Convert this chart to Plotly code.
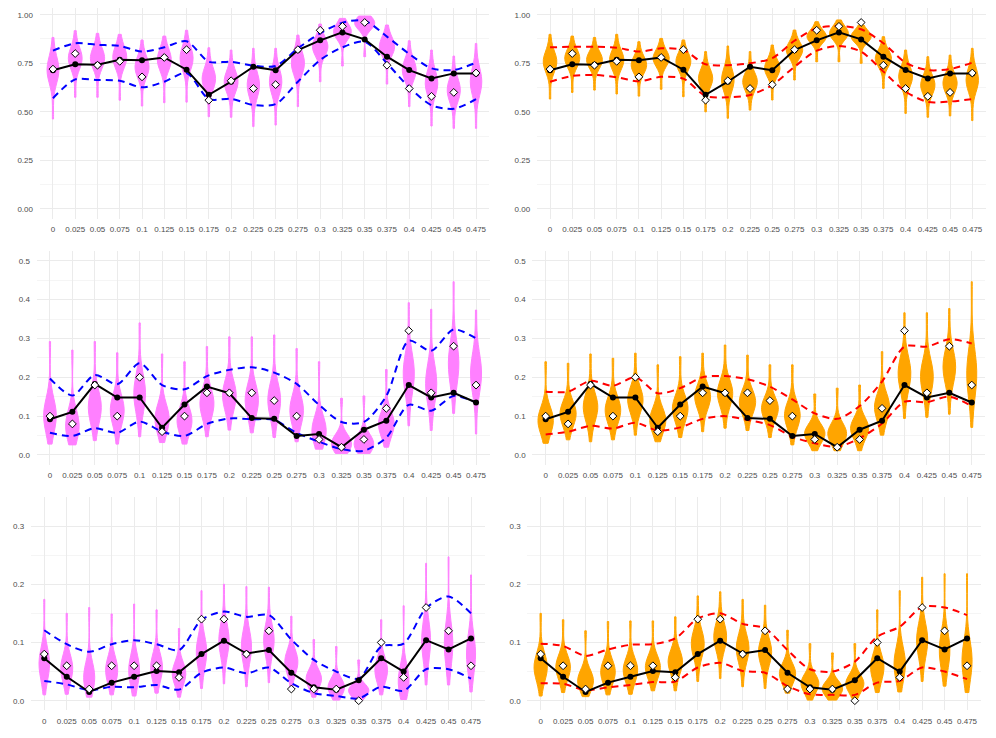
import plotly.graph_objects as go

CATS = ["0", "0.025", "0.05", "0.075", "0.1", "0.125", "0.15", "0.175", "0.2", "0.225",
        "0.25", "0.275", "0.3", "0.325", "0.35", "0.375", "0.4", "0.425", "0.45", "0.475"]

# ---- row 1 -------------------------------------------------------------
obs_1 = [0.72, 0.80, 0.74, 0.76, 0.68, 0.78, 0.82, 0.56, 0.66, 0.62,
         0.64, 0.82, 0.92, 0.94, 0.96, 0.74, 0.62, 0.58, 0.60, 0.70]
mean_1 = [0.714, 0.745, 0.743, 0.768, 0.765, 0.780, 0.717, 0.588, 0.655, 0.732,
          0.714, 0.818, 0.868, 0.909, 0.873, 0.784, 0.715, 0.672, 0.698, 0.698]
blue_hi_1 = [0.815, 0.853, 0.845, 0.839, 0.810, 0.832, 0.863, 0.758, 0.758, 0.738,
             0.736, 0.827, 0.904, 0.959, 0.969, 0.887, 0.798, 0.724, 0.715, 0.753]
blue_lo_1 = [0.570, 0.667, 0.664, 0.660, 0.626, 0.655, 0.700, 0.566, 0.567, 0.535,
             0.540, 0.655, 0.767, 0.832, 0.861, 0.750, 0.626, 0.534, 0.516, 0.565]
red_hi_1 = [0.832, 0.835, 0.835, 0.830, 0.810, 0.827, 0.818, 0.745, 0.740, 0.750,
            0.776, 0.866, 0.930, 0.942, 0.925, 0.853, 0.753, 0.715, 0.720, 0.753]
red_lo_1 = [0.655, 0.685, 0.690, 0.678, 0.657, 0.680, 0.671, 0.582, 0.575, 0.587,
            0.638, 0.732, 0.815, 0.839, 0.810, 0.707, 0.604, 0.551, 0.553, 0.566]
vl_min_1 = [0.463, 0.575, 0.575, 0.560, 0.530, 0.547, 0.550, 0.475, 0.472, 0.424,
            0.432, 0.527, 0.655, 0.736, 0.784, 0.643, 0.527, 0.427, 0.415, 0.415]
vl_mode_1 = [0.715, 0.775, 0.775, 0.780, 0.730, 0.767, 0.775, 0.670, 0.655, 0.638,
             0.655, 0.750, 0.835, 0.912, 0.955, 0.835, 0.715, 0.647, 0.612, 0.655]
vl_max_1 = [0.883, 0.918, 0.904, 0.899, 0.870, 0.890, 0.920, 0.830, 0.818, 0.827,
            0.827, 0.895, 0.952, 0.981, 0.993, 0.947, 0.866, 0.818, 0.787, 0.852]
vr_min_1 = [0.566, 0.600, 0.612, 0.592, 0.581, 0.616, 0.578, 0.500, 0.467, 0.509,
            0.561, 0.664, 0.758, 0.758, 0.750, 0.621, 0.492, 0.472, 0.479, 0.455]
vr_mode_1 = [0.758, 0.775, 0.767, 0.767, 0.741, 0.775, 0.758, 0.672, 0.664, 0.655,
             0.724, 0.818, 0.887, 0.904, 0.887, 0.775, 0.681, 0.638, 0.647, 0.664]
vr_max_1 = [0.899, 0.890, 0.883, 0.899, 0.861, 0.878, 0.870, 0.810, 0.839, 0.810,
            0.844, 0.921, 0.964, 0.973, 0.947, 0.887, 0.818, 0.784, 0.792, 0.827]

# ---- row 2 -------------------------------------------------------------
obs_2 = [0.10, 0.08, 0.18, 0.10, 0.20, 0.06, 0.10, 0.16, 0.16, 0.16,
         0.14, 0.10, 0.04, 0.02, 0.04, 0.12, 0.32, 0.16, 0.28, 0.18]
mean_2 = [0.092, 0.111, 0.183, 0.148, 0.148, 0.070, 0.130, 0.176, 0.159, 0.095,
          0.093, 0.049, 0.054, 0.020, 0.065, 0.088, 0.180, 0.148, 0.160, 0.135]
blue_hi_2 = [0.197, 0.153, 0.206, 0.182, 0.236, 0.180, 0.169, 0.203, 0.219, 0.226,
             0.212, 0.183, 0.129, 0.085, 0.085, 0.152, 0.294, 0.268, 0.323, 0.300]
blue_lo_2 = [0.057, 0.049, 0.069, 0.057, 0.086, 0.060, 0.049, 0.080, 0.094, 0.092,
             0.090, 0.057, 0.034, 0.015, 0.011, 0.045, 0.129, 0.114, 0.152, 0.135]
red_hi_2 = [0.163, 0.163, 0.191, 0.178, 0.200, 0.159, 0.172, 0.200, 0.203, 0.195,
            0.176, 0.143, 0.107, 0.093, 0.126, 0.189, 0.279, 0.279, 0.298, 0.287]
red_lo_2 = [0.053, 0.060, 0.075, 0.068, 0.083, 0.063, 0.071, 0.093, 0.100, 0.090,
            0.077, 0.047, 0.030, 0.021, 0.043, 0.081, 0.137, 0.136, 0.150, 0.126]
vl_min_2 = [0.028, 0.026, 0.037, 0.028, 0.047, 0.032, 0.028, 0.047, 0.064, 0.057,
            0.045, 0.034, 0.015, 0.004, 0.004, 0.020, 0.075, 0.063, 0.107, 0.054]
vl_mode_2 = [0.103, 0.077, 0.124, 0.116, 0.159, 0.094, 0.090, 0.133, 0.154, 0.142,
             0.142, 0.116, 0.064, 0.030, 0.030, 0.081, 0.210, 0.184, 0.236, 0.210]
vl_max_2 = [0.292, 0.270, 0.292, 0.263, 0.340, 0.260, 0.240, 0.279, 0.304, 0.304,
            0.309, 0.274, 0.240, 0.146, 0.152, 0.220, 0.392, 0.375, 0.446, 0.373]
vr_min_2 = [0.030, 0.039, 0.034, 0.039, 0.051, 0.034, 0.045, 0.060, 0.069, 0.063,
            0.045, 0.026, 0.011, 0.011, 0.011, 0.051, 0.094, 0.097, 0.105, 0.071]
vr_mode_2 = [0.090, 0.107, 0.124, 0.116, 0.142, 0.090, 0.120, 0.150, 0.159, 0.137,
             0.120, 0.103, 0.056, 0.056, 0.069, 0.124, 0.210, 0.202, 0.227, 0.210]
vr_max_2 = [0.240, 0.236, 0.260, 0.249, 0.262, 0.232, 0.253, 0.262, 0.283, 0.257,
            0.232, 0.232, 0.157, 0.172, 0.180, 0.266, 0.366, 0.366, 0.377, 0.446]

# ---- row 3 -------------------------------------------------------------
obs_3 = [0.08, 0.06, 0.02, 0.06, 0.06, 0.06, 0.04, 0.14, 0.14, 0.08,
         0.12, 0.02, 0.02, 0.02, 0.00, 0.10, 0.04, 0.16, 0.12, 0.06]
mean_3 = [0.073, 0.041, 0.015, 0.031, 0.041, 0.051, 0.049, 0.080, 0.103, 0.081,
          0.087, 0.048, 0.023, 0.019, 0.035, 0.073, 0.050, 0.104, 0.088, 0.107]
blue_hi_3 = [0.121, 0.097, 0.084, 0.097, 0.104, 0.097, 0.087, 0.139, 0.153, 0.144,
             0.147, 0.105, 0.070, 0.050, 0.038, 0.093, 0.098, 0.159, 0.179, 0.150]
blue_lo_3 = [0.034, 0.028, 0.018, 0.024, 0.023, 0.027, 0.019, 0.048, 0.057, 0.047,
             0.057, 0.030, 0.013, 0.008, 0.004, 0.024, 0.017, 0.054, 0.054, 0.038]
red_hi_3 = [0.098, 0.094, 0.077, 0.088, 0.096, 0.097, 0.107, 0.141, 0.150, 0.132,
            0.124, 0.087, 0.054, 0.050, 0.067, 0.110, 0.127, 0.161, 0.160, 0.147]
red_lo_3 = [0.030, 0.029, 0.018, 0.023, 0.027, 0.032, 0.033, 0.057, 0.065, 0.051,
            0.048, 0.025, 0.011, 0.010, 0.010, 0.031, 0.034, 0.057, 0.050, 0.037]
vl_min_3 = [0.010, 0.011, 0.006, 0.010, 0.008, 0.013, 0.006, 0.021, 0.029, 0.024,
            0.031, 0.021, 0.006, 0.001, 0.001, 0.010, 0.002, 0.027, 0.027, 0.015]
vl_mode_3 = [0.064, 0.056, 0.041, 0.053, 0.053, 0.058, 0.047, 0.084, 0.104, 0.093,
             0.104, 0.067, 0.038, 0.024, 0.018, 0.053, 0.035, 0.104, 0.098, 0.081]
vl_max_3 = [0.174, 0.150, 0.160, 0.149, 0.166, 0.156, 0.124, 0.189, 0.200, 0.196,
            0.195, 0.145, 0.105, 0.093, 0.070, 0.139, 0.163, 0.236, 0.247, 0.216]
vr_min_3 = [0.008, 0.014, 0.007, 0.010, 0.011, 0.017, 0.017, 0.033, 0.038, 0.024,
            0.021, 0.013, 0.001, 0.001, 0.004, 0.014, 0.015, 0.033, 0.025, 0.014]
vr_mode_3 = [0.058, 0.058, 0.035, 0.050, 0.053, 0.058, 0.067, 0.098, 0.110, 0.090,
             0.084, 0.047, 0.030, 0.021, 0.030, 0.058, 0.064, 0.104, 0.087, 0.070]
vr_max_3 = [0.150, 0.139, 0.120, 0.136, 0.137, 0.137, 0.144, 0.180, 0.187, 0.174,
            0.164, 0.121, 0.098, 0.082, 0.098, 0.156, 0.189, 0.212, 0.218, 0.218]

_PINK = "#FF80FF"
_ORANGE = "#FFA500"
_BLUE = "#0000FF"
_RED = "#FF0000"
_GRID = "#EBEBEB"
_MINOR = "#F5F5F5"
_TICK = "#4D4D4D"
_FONT = "Liberation Sans, Arial, sans-serif"

# the page body has an 8px margin, so the figure is offset by it
OFF = 8
W, H = 996 - OFF, 738 - OFF

# pixel boxes of each panel in window coords (left, right, top, bottom)
PANELS = {
    1: (39.6, 489.4, 8.0, 218.7),
    2: (536.7, 985.6, 8.0, 218.7),
    3: (36.5, 489.5, 251.0, 464.7),
    4: (532.2, 985.2, 251.0, 464.7),
    5: (30.8, 484.5, 496.9, 710.4),
    6: (527.2, 980.5, 496.9, 710.4),
}
YAX = {
    1: dict(range=[-0.05, 1.0345], dtick=0.25, tickformat=".2f"),
    2: dict(range=[-0.025, 0.525], dtick=0.1, tickformat=".1f"),
    3: dict(range=[-1 / 60, 0.35], dtick=0.1, tickformat=".1f"),
}

fig = go.Figure()


def add_panel(k, obs, mean, hi, lo, vmin, vmode, vmax, fill, dash_color):
    xa, ya = f"x{k}", f"y{k}"
    # area-like scaling: tighter violins are drawn wider
    spreads = [b - a for a, b in zip(vmin, vmax)]
    tightest = min(spreads)
    for c, a, m, b in zip(CATS, vmin, vmode, vmax):
        samples = [a] + [m] * 10 + [b]
        w = max(0.35, 0.9 * (tightest / (b - a)) ** 0.75)
        fig.add_trace(go.Violin(
            x=[c] * len(samples), y=samples, xaxis=xa, yaxis=ya,
            fillcolor=fill, line=dict(color=fill, width=1),
            spanmode="hard", bandwidth=(b - a) / 6, width=w,
            scalemode="width", points=False, opacity=1,
            showlegend=False, hoverinfo="skip",
        ))
    for band in (hi, lo):
        fig.add_trace(go.Scatter(
            x=CATS, y=band, xaxis=xa, yaxis=ya, mode="lines",
            line=dict(color=dash_color, width=2, dash="7px,5px",
                      shape="spline", smoothing=0.8),
            showlegend=False, hoverinfo="skip",
        ))
    fig.add_trace(go.Scatter(
        x=CATS, y=mean, xaxis=xa, yaxis=ya, mode="lines+markers",
        line=dict(color="black", width=2),
        marker=dict(color="black", size=6),
        showlegend=False,
    ))
    fig.add_trace(go.Scatter(
        x=CATS, y=obs, xaxis=xa, yaxis=ya, mode="markers",
        marker=dict(symbol="diamond", size=6, color="white",
                    line=dict(color="black", width=1)),
        showlegend=False,
    ))


add_panel(1, obs_1, mean_1, blue_hi_1, blue_lo_1, vl_min_1, vl_mode_1, vl_max_1, _PINK, _BLUE)
add_panel(2, obs_1, mean_1, red_hi_1, red_lo_1, vr_min_1, vr_mode_1, vr_max_1, _ORANGE, _RED)
add_panel(3, obs_2, mean_2, blue_hi_2, blue_lo_2, vl_min_2, vl_mode_2, vl_max_2, _PINK, _BLUE)
add_panel(4, obs_2, mean_2, red_hi_2, red_lo_2, vr_min_2, vr_mode_2, vr_max_2, _ORANGE, _RED)
add_panel(5, obs_3, mean_3, blue_hi_3, blue_lo_3, vl_min_3, vl_mode_3, vl_max_3, _PINK, _BLUE)
add_panel(6, obs_3, mean_3, red_hi_3, red_lo_3, vr_min_3, vr_mode_3, vr_max_3, _ORANGE, _RED)

layout = dict(
    width=W, height=H,
    paper_bgcolor="white", plot_bgcolor="white",
    margin=dict(l=0, r=0, t=0, b=0),
    violinmode="overlay",
    font=dict(family=_FONT, color=_TICK, size=8),
    showlegend=False,
)
for k, (x0, x1, y0, y1) in PANELS.items():
    row = (k + 1) // 2
    sfx = "" if k == 1 else str(k)
    layout["xaxis" + sfx] = dict(
        domain=[(x0 - OFF) / W, min(1, (x1 - OFF) / W)], anchor=f"y{k}",
        type="category", categoryorder="array", categoryarray=CATS,
        range=[-0.6, 19.6], showgrid=True, gridcolor=_GRID, gridwidth=1,
        zeroline=False, showline=False, automargin=False,
        ticks="outside", ticklen=3, tickcolor="rgba(0,0,0,0)",
        tickfont=dict(size=8, color=_TICK), fixedrange=True,
    )
    ya = YAX[row]
    layout["yaxis" + sfx] = dict(
        domain=[1 - (y1 - OFF) / H, 1 - (y0 - OFF) / H], anchor=f"x{k}",
        range=ya["range"], dtick=ya["dtick"], tick0=0, tickformat=ya["tickformat"],
        showgrid=True, gridcolor=_GRID, gridwidth=1,
        minor=dict(dtick=ya["dtick"] / 2, tick0=0, showgrid=True,
                   gridcolor=_MINOR, gridwidth=0.8),
        zeroline=False, showline=False, automargin=False,
        ticks="outside", ticklen=4, tickcolor="rgba(0,0,0,0)",
        tickfont=dict(size=8, color=_TICK), fixedrange=True,
    )
fig.update_layout(**layout)

fig.write_html("out.html")
